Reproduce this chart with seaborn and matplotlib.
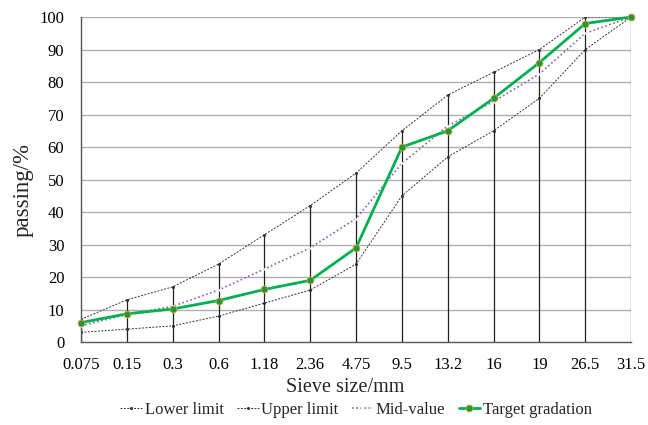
import numpy as np
import pandas as pd
import matplotlib
matplotlib.use("Agg")
import matplotlib.pyplot as plt
import seaborn as sns

# sieve sizes (mm) and percent passing
sieve_sizes = ["0.075", "0.15", "0.3", "0.6", "1.18", "2.36", "4.75",
               "9.5", "13.2", "16", "19", "26.5", "31.5"]
lower_limit = [3, 4, 5, 8, 12, 16, 24, 45, 57, 65, 75, 90, 100]
upper_limit = [7, 13, 17, 24, 33, 42, 52, 65, 76, 83, 90, 100, 100]
mid_value = [5, 8.5, 11, 16, 22.5, 29, 38, 55, 66.5, 74, 82.5, 95, 100]
target = [6, 8.7, 10.2, 12.8, 16.2, 19, 29, 60, 65, 75, 86, 98, 100]
y_ticks = [0, 10, 20, 30, 40, 50, 60, 70, 80, 90, 100]

sns.set_theme(style="white")
plt.rcParams["font.family"] = ["Liberation Serif", "DejaVu Serif"]

pos = np.arange(len(sieve_sizes))
df = pd.DataFrame({"pos": pos, "lower": lower_limit, "upper": upper_limit,
                   "mid": mid_value, "target": target})

fig, ax = plt.subplots(figsize=(6.48, 4.25), dpi=100)
fig.subplots_adjust(left=0.125, right=0.974, bottom=0.195, top=0.96)

# horizontal gridlines
for yv in y_ticks[1:]:
    ax.axhline(yv, color="#b0b0b0", lw=1.0, zorder=0)

# drop lines from the highest series down to the axis
ax.vlines(pos, 0, df[["lower", "upper", "mid", "target"]].max(axis=1),
          color="#202020", lw=0.9, zorder=1)

sns.lineplot(data=df, x="pos", y="lower", ax=ax, color="#333333", lw=0.7,
             linestyle=(0, (2, 1.5)), marker="o", markersize=2.2,
             markeredgewidth=0, label="Lower limit", zorder=2)
sns.lineplot(data=df, x="pos", y="upper", ax=ax, color="#333333", lw=0.7,
             linestyle=(0, (2, 1.5)), marker="o", markersize=2.2,
             markeredgewidth=0, label="Upper limit", zorder=2)
sns.lineplot(data=df, x="pos", y="mid", ax=ax, color="#8a5fb8", lw=1.2,
             linestyle=(0, (1, 1.5)), marker="x", markersize=3.5,
             markeredgewidth=0.8, label="Mid-value", zorder=3)
sns.lineplot(data=df, x="pos", y="target", ax=ax, color="#00b050", lw=2.0,
             marker="o", markersize=5, markerfacecolor="#1a9a3a",
             markeredgecolor="#f0a040", markeredgewidth=0.6,
             label="Target gradation", zorder=4, clip_on=False)

ax.set_xlim(pos[0], pos[-1])
ax.set_ylim(0, 100)
ax.set_xticks(pos)
ax.set_xticklabels(sieve_sizes)
ax.set_yticks(y_ticks)
ax.tick_params(axis="both", labelsize=12, colors="black", length=0)
ax.tick_params(axis="x", pad=11)
ax.tick_params(axis="y", pad=12)

for side in ["top", "right"]:
    ax.spines[side].set_visible(False)
for side in ["left", "bottom"]:
    ax.spines[side].set_color("#555555")
    ax.spines[side].set_linewidth(1.0)

ax.set_xlabel("Sieve size/mm", fontsize=14.5, labelpad=3)
ax.xaxis.label.set_x(0.48)
ax.set_ylabel("passing/%", fontsize=16.5)
ax.yaxis.set_label_coords(-0.087, 0.468)

ax.legend(loc="center", bbox_to_anchor=(0.5, -0.208), ncol=4,
          frameon=False, fontsize=12, handlelength=1.3, handletextpad=0.15,
          columnspacing=0.8, borderaxespad=0, borderpad=0)

fig.savefig("out.png", dpi=100)
